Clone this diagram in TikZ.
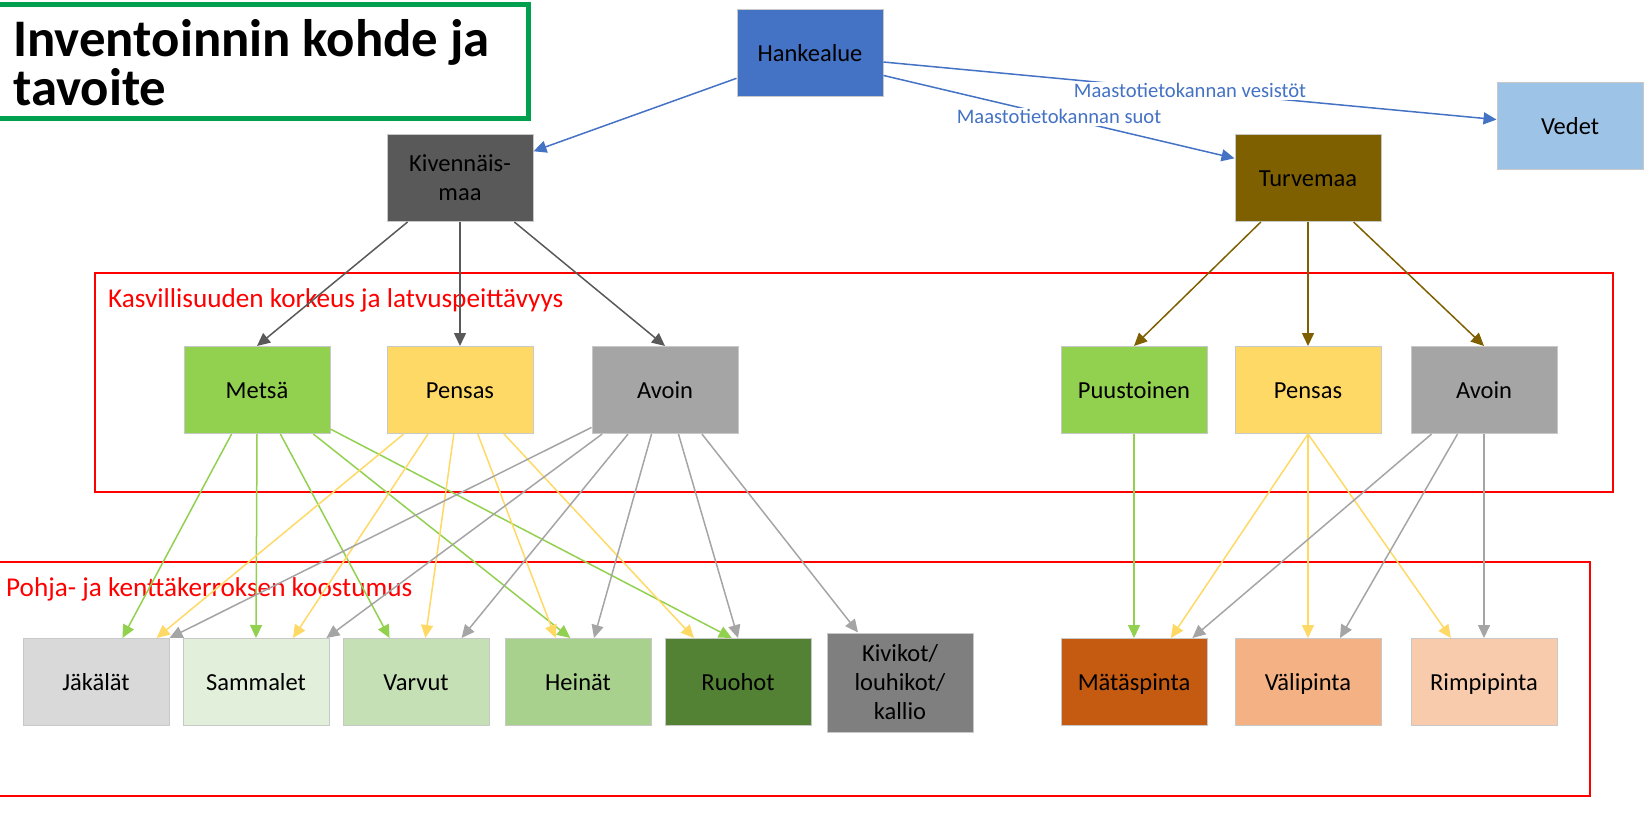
\documentclass[tikz,border=0pt]{standalone}
\usepackage{fontspec}
\setmainfont{Carlito}
\usetikzlibrary{arrows.meta}
\definecolor{otsikkovihrea}{HTML}{00A04E}
\definecolor{hankesin}{HTML}{4472C4}
\definecolor{kivharmaa}{HTML}{595959}
\definecolor{turveruskea}{HTML}{7F6000}
\definecolor{vesisin}{HTML}{9DC3E6}
\definecolor{metsavihrea}{HTML}{92D050}
\definecolor{pensaskeltainen}{HTML}{FFD966}
\definecolor{avoinharmaa}{HTML}{A5A5A5}
\definecolor{jakalaharmaa}{HTML}{D9D9D9}
\definecolor{sammalvihrea}{HTML}{E2EFDA}
\definecolor{varpuvihrea}{HTML}{C5E0B4}
\definecolor{heinavihrea}{HTML}{A9D18E}
\definecolor{ruohovihrea}{HTML}{548235}
\definecolor{kiviharmaa}{HTML}{7F7F7F}
\definecolor{matasoranssi}{HTML}{C55A11}
\definecolor{valioranssi}{HTML}{F4B183}
\definecolor{rimpioranssi}{HTML}{F8CBAD}
\definecolor{reunus}{HTML}{C8C8C8}

\begin{document}
\begin{tikzpicture}[x=1pt, y=-1pt,
    box/.style={draw=reunus, line width=1pt, minimum width=146pt, minimum height=87pt,
      inner sep=0pt, align=center, text height=19pt, text depth=3pt,
      font=\fontsize{24.5}{29}\selectfont},
    monirivi/.style={text height=, text depth=},
    >={Triangle[length=13pt,width=12pt]},
    link/.style={->, line width=1.5pt},
    tieto/.style={fill=white, text=hankesin, inner sep=1.5pt, font=\fontsize{20.6}{24}\selectfont},
    alue/.style={text=red, inner sep=0pt, anchor=west, font=\fontsize{27.2}{32}\selectfont}]
  \useasboundingbox (0,0) rectangle (1651,817);

  % otsikko
  \draw[otsikkovihrea, line width=5pt] (-5,4) rectangle (528,118);
  \node[anchor=west, inner sep=0pt, align=left, font=\fontsize{52.8}{49}\selectfont\bfseries]
    (otsikko) at (13,63) {Inventoinnin kohde ja\\tavoite};

  % rajaukset
  \draw[red, line width=2pt] (95,273) rectangle (1613,492);
  \draw[red, line width=2pt] (-5,562) -| (1590,796) -- (-5,796);
  \node[alue] (kasvillisuus) at (108,300) {Kasvillisuuden korkeus ja latvuspeittävyys};
  \node[alue] (koostumus) at (6,589) {Pohja- ja kenttäkerroksen koostumus};

  % laatikot
  \node[box, fill=hankesin] (hanke) at (810,53) {Hankealue};
  \node[box, monirivi, fill=kivharmaa] (kiv) at (460,178) {Kivennäis-\\maa};
  \node[box, fill=turveruskea] (turve) at (1308,178) {Turvemaa};
  \node[box, fill=vesisin] (vedet) at (1570,126) {Vedet};

  \node[box, fill=metsavihrea] (metsa) at (257,390) {Metsä};
  \node[box, fill=pensaskeltainen] (pensas) at (460,390) {Pensas};
  \node[box, fill=avoinharmaa] (avoin) at (665,390) {Avoin};
  \node[box, fill=metsavihrea] (puusto) at (1134,390) {Puustoinen};
  \node[box, fill=pensaskeltainen] (pensas2) at (1308,390) {Pensas};
  \node[box, fill=avoinharmaa] (avoin2) at (1484,390) {Avoin};

  \node[box, fill=jakalaharmaa] (jakalat) at (96,682) {Jäkälät};
  \node[box, fill=sammalvihrea] (sammalet) at (256,682) {Sammalet};
  \node[box, fill=varpuvihrea] (varvut) at (416,682) {Varvut};
  \node[box, fill=heinavihrea] (heinat) at (578,682) {Heinät};
  \node[box, fill=ruohovihrea] (ruohot) at (738,682) {Ruohot};
  \node[box, monirivi, fill=kiviharmaa, minimum height=99pt] (kivikot) at (900,682.5) {Kivikot/\\louhikot/\\kallio};
  \node[box, fill=matasoranssi] (matas) at (1134,682) {Mätäspinta};
  \node[box, fill=valioranssi] (vali) at (1308,682) {Välipinta};
  \node[box, fill=rimpioranssi] (rimpi) at (1484,682) {Rimpipinta};

  % yhteydet
  \path[link, hankesin] (hanke.199) edge (kiv.20)
    (hanke.343) edge node[tieto] {Maastotietokannan suot} (turve.165)
    (hanke.353) edge node[tieto] {Maastotietokannan vesistöt} (vedet.175);
  \path[link, kivharmaa] (kiv.220) edge (metsa.north)
    (kiv.south) edge (pensas.north)
    (kiv.321) edge (avoin.north);
  \path[link, turveruskea] (turve.223) edge (puusto.north)
    (turve.south) edge (pensas2.north)
    (turve.316) edge (avoin2.north);

  \path[link, metsavihrea] (metsa.240) edge (jakalat.59)
    (metsa.south) edge (sammalet.north)
    (metsa.298) edge (varvut.121)
    (metsa.322) edge (heinat.100)
    (metsa.332) edge (ruohot.98);
  \path[link, pensaskeltainen] (pensas.218) edge (jakalat.36)
    (pensas.234) edge (sammalet.50)
    (pensas.262) edge (varvut.78)
    (pensas.292) edge (heinat.117)
    (pensas.315) edge (ruohot.135);
  \path[link, avoinharmaa] (avoin.207) edge (jakalat.north east)
    (avoin.215) edge (sammalet.32)
    (avoin.230) edge (varvut.44)
    (avoin.253) edge (heinat.70)
    (avoin.287) edge (ruohot.north)
    (avoin.310) edge (kivikot.130);

  \path[link, metsavihrea] (puusto.south) edge (matas.north);
  \path[link, pensaskeltainen] (pensas2.south) edge (matas.50)
    (pensas2.south) edge (vali.north)
    (pensas2.south) edge (rimpi.127);
  \path[link, avoinharmaa] (avoin2.220) edge (matas.37)
    (avoin2.239) edge (vali.54)
    (avoin2.south) edge (rimpi.north);
\end{tikzpicture}
\end{document}
